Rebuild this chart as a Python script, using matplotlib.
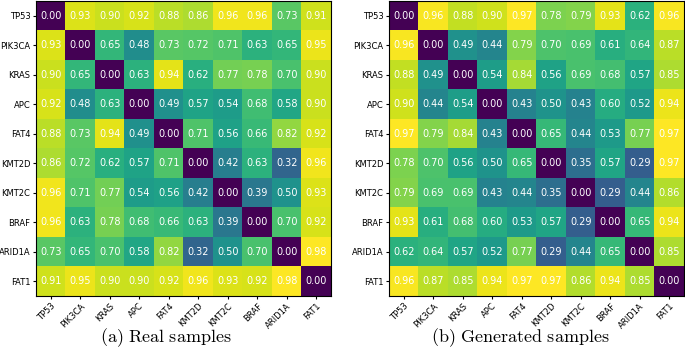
import numpy as np
import matplotlib
matplotlib.use("Agg")
import matplotlib.pyplot as plt

genes = ["TP53", "PIK3CA", "KRAS", "APC", "FAT4", "KMT2D", "KMT2C", "BRAF", "ARID1A", "FAT1"]

real = [
    [0.00, 0.93, 0.90, 0.92, 0.88, 0.86, 0.96, 0.96, 0.73, 0.91],
    [0.93, 0.00, 0.65, 0.48, 0.73, 0.72, 0.71, 0.63, 0.65, 0.95],
    [0.90, 0.65, 0.00, 0.63, 0.94, 0.62, 0.77, 0.78, 0.70, 0.90],
    [0.92, 0.48, 0.63, 0.00, 0.49, 0.57, 0.54, 0.68, 0.58, 0.90],
    [0.88, 0.73, 0.94, 0.49, 0.00, 0.71, 0.56, 0.66, 0.82, 0.92],
    [0.86, 0.72, 0.62, 0.57, 0.71, 0.00, 0.42, 0.63, 0.32, 0.96],
    [0.96, 0.71, 0.77, 0.54, 0.56, 0.42, 0.00, 0.39, 0.50, 0.93],
    [0.96, 0.63, 0.78, 0.68, 0.66, 0.63, 0.39, 0.00, 0.70, 0.92],
    [0.73, 0.65, 0.70, 0.58, 0.82, 0.32, 0.50, 0.70, 0.00, 0.98],
    [0.91, 0.95, 0.90, 0.90, 0.92, 0.96, 0.93, 0.92, 0.98, 0.00],
]

generated = [
    [0.00, 0.96, 0.88, 0.90, 0.97, 0.78, 0.79, 0.93, 0.62, 0.96],
    [0.96, 0.00, 0.49, 0.44, 0.79, 0.70, 0.69, 0.61, 0.64, 0.87],
    [0.88, 0.49, 0.00, 0.54, 0.84, 0.56, 0.69, 0.68, 0.57, 0.85],
    [0.90, 0.44, 0.54, 0.00, 0.43, 0.50, 0.43, 0.60, 0.52, 0.94],
    [0.97, 0.79, 0.84, 0.43, 0.00, 0.65, 0.44, 0.53, 0.77, 0.97],
    [0.78, 0.70, 0.56, 0.50, 0.65, 0.00, 0.35, 0.57, 0.29, 0.97],
    [0.79, 0.69, 0.69, 0.43, 0.44, 0.35, 0.00, 0.29, 0.44, 0.86],
    [0.93, 0.61, 0.68, 0.60, 0.53, 0.57, 0.29, 0.00, 0.65, 0.94],
    [0.62, 0.64, 0.57, 0.52, 0.77, 0.29, 0.44, 0.65, 0.00, 0.85],
    [0.96, 0.87, 0.85, 0.94, 0.97, 0.97, 0.86, 0.94, 0.85, 0.00],
]

captions = ["(a) Real samples", "(b) Generated samples"]

plt.rcParams["mathtext.fontset"] = "cm"

fig = plt.figure(figsize=(6.85, 3.6), dpi=100)
ax_left = fig.add_axes([36/685, 1 - 296/360, 295/685, 295/360])
ax_right = fig.add_axes([389/685, 1 - 296/360, 295/685, 295/360])


def draw_heatmap(ax, data):
    m = np.array(data)
    ax.imshow(m, cmap="viridis", aspect="auto")
    for i in range(m.shape[0]):
        for j in range(m.shape[1]):
            ax.text(j, i, f"{m[i, j]:.2f}", ha="center", va="center",
                    color="white", fontsize=7)
    ax.set_xticks(np.arange(len(genes)))
    ax.set_yticks(np.arange(len(genes)))
    ax.set_xticklabels(genes, rotation=45, ha="right", rotation_mode="anchor", fontsize=6)
    ax.set_yticklabels(genes, fontsize=6)
    ax.tick_params(length=2.5, pad=1.5)


draw_heatmap(ax_left, real)
draw_heatmap(ax_right, generated)

# subfigure captions in LaTeX-like serif
for xc, cap in zip([166, 520], captions):
    txt = r"$\mathrm{" + cap.replace(" ", r"\ ") + "}$"
    fig.text(xc/685, 1 - 338/360, txt, ha="center", va="center", fontsize=13)

fig.savefig("out.png", dpi=100)
